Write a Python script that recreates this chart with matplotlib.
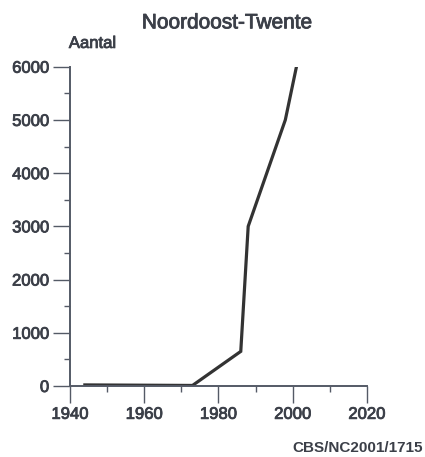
import matplotlib
matplotlib.use("Agg")
import matplotlib.pyplot as plt
import matplotlib.patheffects as pe
from matplotlib.ticker import MultipleLocator

# Values
years = [1944, 1973, 1986, 1988, 1998, 2001]
counts = [20, 10, 650, 3000, 5000, 6000]

x_ticks = [1940, 1960, 1980, 2000, 2020]
y_ticks = [0, 1000, 2000, 3000, 4000, 5000, 6000]

title = "Noordoost-Twente"
ylabel = "Aantal"
source = "CBS/NC2001/1715"

text_color = "#3b3f48"
axis_color = "#545a66"
line_color = "#333333"

plt.rcParams["font.family"] = ["Liberation Sans", "DejaVu Sans"]

# slightly thickened glyphs, like the scanned original
thick = [pe.withStroke(linewidth=0.6, foreground=text_color)]

fig = plt.figure(figsize=(4.25, 4.57), dpi=100)
ax = fig.add_axes([0.1647, 0.1554, 0.6988, 0.6986])

ax.plot(years, counts, color=line_color, linewidth=2.3, solid_joinstyle="miter")

ax.set_xlim(1940, 2020)
ax.set_ylim(0, 6000)
ax.set_xticks(x_ticks)
ax.set_yticks(y_ticks)
ax.xaxis.set_minor_locator(MultipleLocator(10))
ax.yaxis.set_minor_locator(MultipleLocator(500))

for side in ("top", "right"):
    ax.spines[side].set_visible(False)
for side in ("left", "bottom"):
    ax.spines[side].set_color(axis_color)
    ax.spines[side].set_linewidth(1.4)

ax.tick_params(which="major", length=12, width=1.0, color=axis_color,
               labelsize=12, labelcolor=text_color, pad=3)
ax.tick_params(which="minor", length=4, width=1.0, color=axis_color)
for lab in ax.get_xticklabels() + ax.get_yticklabels():
    lab.set_path_effects(thick)

fig.text(0.535, 0.95, title, ha="center", va="center",
         fontsize=15, color=text_color, path_effects=thick)
fig.text(0.162, 0.905, ylabel, ha="left", va="center",
         fontsize=12, color=text_color, path_effects=thick)
fig.text(0.995, 0.004, source, ha="right", va="bottom",
         fontsize=11, fontweight="bold", color=text_color)

fig.savefig("out.png", dpi=100, facecolor="white")
